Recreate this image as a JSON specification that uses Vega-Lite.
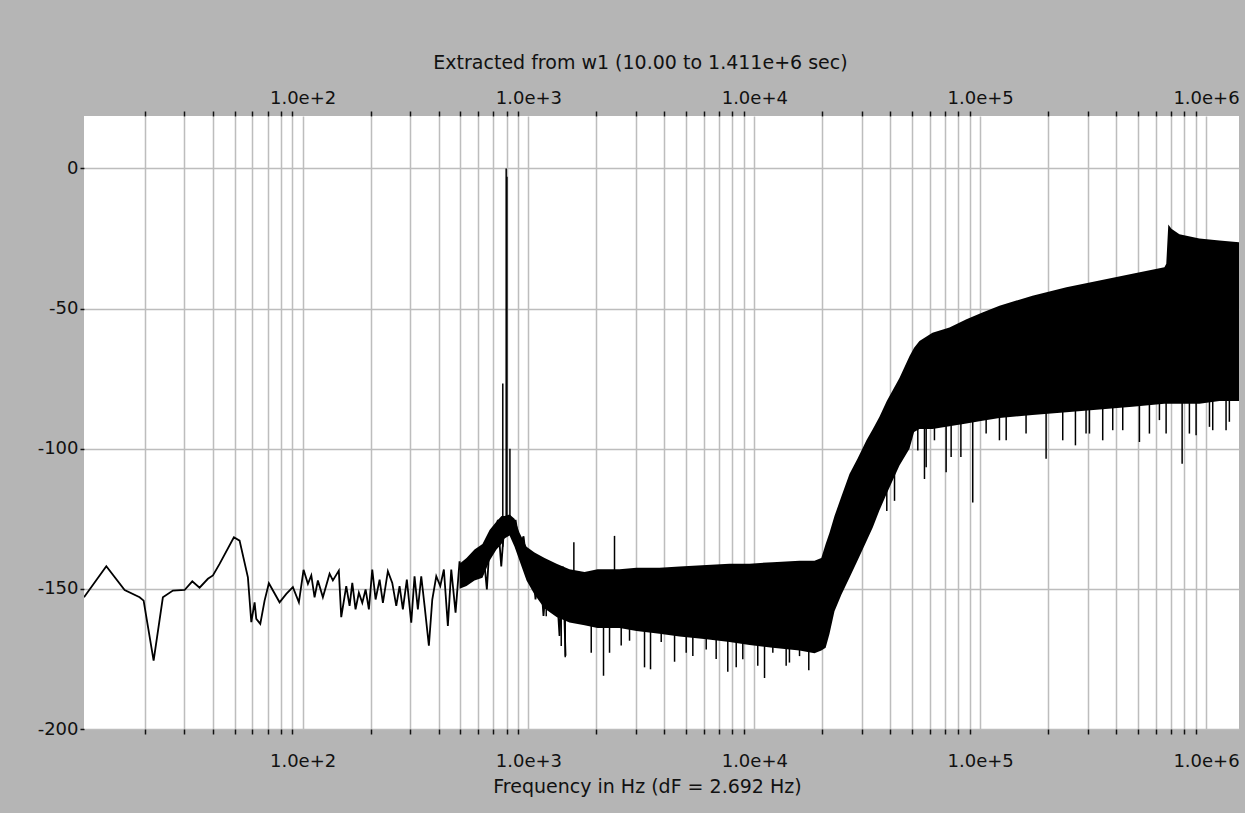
{
  "$schema": "https://vega.github.io/schema/vega-lite/v6.json",
  "width": 1155,
  "height": 613,
  "autosize": {"type": "none"},
  "padding": {"left": 84, "top": 116, "right": 6, "bottom": 84},
  "background": "#b5b5b5",
  "datasets": {
    "band": [
      {"freq": 495.5, "hi": -141, "lo": -150},
      {"freq": 532, "hi": -139, "lo": -149},
      {"freq": 577, "hi": -136, "lo": -147},
      {"freq": 626, "hi": -134, "lo": -146},
      {"freq": 673, "hi": -129, "lo": -140},
      {"freq": 722, "hi": -126, "lo": -136},
      {"freq": 760, "hi": -124, "lo": -134},
      {"freq": 784, "hi": -124, "lo": -132},
      {"freq": 825, "hi": -123.5, "lo": -131},
      {"freq": 868, "hi": -125, "lo": -135},
      {"freq": 913, "hi": -130, "lo": -140},
      {"freq": 981, "hi": -135, "lo": -147},
      {"freq": 1064, "hi": -137, "lo": -152},
      {"freq": 1179, "hi": -139, "lo": -157},
      {"freq": 1332, "hi": -141, "lo": -160},
      {"freq": 1520, "hi": -143, "lo": -162},
      {"freq": 1772, "hi": -144, "lo": -163},
      {"freq": 2023, "hi": -143, "lo": -164},
      {"freq": 2531, "hi": -143, "lo": -164},
      {"freq": 3010, "hi": -142.5, "lo": -165},
      {"freq": 3805, "hi": -142.5, "lo": -166},
      {"freq": 4666, "hi": -142, "lo": -167},
      {"freq": 6143, "hi": -141.5, "lo": -168},
      {"freq": 7768, "hi": -141, "lo": -169},
      {"freq": 9524, "hi": -141, "lo": -170},
      {"freq": 12040, "hi": -140.5, "lo": -171},
      {"freq": 15860, "hi": -140, "lo": -172},
      {"freq": 18475, "hi": -140, "lo": -173},
      {"freq": 19800, "hi": -139, "lo": -172},
      {"freq": 20700, "hi": -134, "lo": -171},
      {"freq": 21530, "hi": -130, "lo": -166},
      {"freq": 22650, "hi": -124, "lo": -158},
      {"freq": 24320, "hi": -117, "lo": -152},
      {"freq": 26390, "hi": -109, "lo": -146},
      {"freq": 28630, "hi": -103.6, "lo": -140},
      {"freq": 31380, "hi": -97, "lo": -133},
      {"freq": 33500, "hi": -93, "lo": -128},
      {"freq": 35830, "hi": -88.6, "lo": -122},
      {"freq": 38600, "hi": -83, "lo": -116},
      {"freq": 43930, "hi": -74.8, "lo": -106},
      {"freq": 48650, "hi": -67, "lo": -100},
      {"freq": 51000, "hi": -64, "lo": -94},
      {"freq": 53860, "hi": -61.6, "lo": -93},
      {"freq": 61510, "hi": -58.6, "lo": -93},
      {"freq": 73130, "hi": -56.8, "lo": -92},
      {"freq": 86980, "hi": -53.8, "lo": -91},
      {"freq": 102370, "hi": -51.4, "lo": -90},
      {"freq": 121750, "hi": -49, "lo": -89},
      {"freq": 170420, "hi": -45.4, "lo": -88},
      {"freq": 241000, "hi": -42.4, "lo": -87},
      {"freq": 337500, "hi": -40, "lo": -86},
      {"freq": 472300, "hi": -37.6, "lo": -85},
      {"freq": 654400, "hi": -35.3, "lo": -84},
      {"freq": 667000, "hi": -34, "lo": -84},
      {"freq": 681000, "hi": -20, "lo": -84},
      {"freq": 702800, "hi": -21.5, "lo": -84},
      {"freq": 762600, "hi": -23.5, "lo": -84},
      {"freq": 934900, "hi": -25, "lo": -84},
      {"freq": 1146700, "hi": -25.7, "lo": -83},
      {"freq": 1400000, "hi": -26.3, "lo": -83}
    ],
    "trace": [
      {"freq": 10.77, "db": -153},
      {"freq": 13.52, "db": -141.9},
      {"freq": 16.3, "db": -150.4},
      {"freq": 18.99, "db": -153},
      {"freq": 19.78, "db": -154.2},
      {"freq": 21.9, "db": -175.6},
      {"freq": 24.07, "db": -153},
      {"freq": 26.66, "db": -150.6},
      {"freq": 30.04, "db": -150.4},
      {"freq": 32.48, "db": -147.3},
      {"freq": 34.99, "db": -149.6},
      {"freq": 38.09, "db": -146.4},
      {"freq": 40.09, "db": -145.2},
      {"freq": 42.91, "db": -141.1},
      {"freq": 49.65, "db": -131.6},
      {"freq": 52.61, "db": -132.8},
      {"freq": 57.27, "db": -145.9},
      {"freq": 59.29, "db": -161.9},
      {"freq": 61.32, "db": -154.8},
      {"freq": 62.37, "db": -160.7},
      {"freq": 64.97, "db": -162.5},
      {"freq": 67.89, "db": -154.2},
      {"freq": 70.92, "db": -148},
      {"freq": 79.09, "db": -154.8},
      {"freq": 84.72, "db": -151.8},
      {"freq": 90.59, "db": -149.4},
      {"freq": 96.3, "db": -154.8},
      {"freq": 101, "db": -143.2},
      {"freq": 105.6, "db": -148.2},
      {"freq": 109.3, "db": -145.2},
      {"freq": 113, "db": -153},
      {"freq": 116.9, "db": -147},
      {"freq": 123, "db": -153},
      {"freq": 131.7, "db": -144.6},
      {"freq": 136.2, "db": -147},
      {"freq": 144.7, "db": -143.5},
      {"freq": 148.3, "db": -160.1},
      {"freq": 156.1, "db": -149},
      {"freq": 161.5, "db": -156.1},
      {"freq": 166, "db": -147.9},
      {"freq": 171.6, "db": -157.3},
      {"freq": 177.5, "db": -151.4},
      {"freq": 183.8, "db": -155},
      {"freq": 190.1, "db": -150.2},
      {"freq": 196.6, "db": -157.3},
      {"freq": 203.5, "db": -143.1},
      {"freq": 210.5, "db": -153.8},
      {"freq": 219.3, "db": -146.7},
      {"freq": 226.8, "db": -155},
      {"freq": 238.6, "db": -143.7},
      {"freq": 249.5, "db": -147.9},
      {"freq": 259.9, "db": -156.1},
      {"freq": 268.8, "db": -149},
      {"freq": 278, "db": -157.3},
      {"freq": 289.5, "db": -146.7},
      {"freq": 302.8, "db": -162.1},
      {"freq": 313.1, "db": -145.5},
      {"freq": 323.9, "db": -157.3},
      {"freq": 335.3, "db": -145.5},
      {"freq": 346.9, "db": -156.1},
      {"freq": 362.4, "db": -170.3},
      {"freq": 375.2, "db": -153.8},
      {"freq": 390.8, "db": -145.5},
      {"freq": 407.1, "db": -149},
      {"freq": 422.3, "db": -143.1},
      {"freq": 439.8, "db": -163.2},
      {"freq": 455.3, "db": -143.1},
      {"freq": 475.7, "db": -158.5},
      {"freq": 495.5, "db": -140.2},
      {"freq": 512.5, "db": -147.9},
      {"freq": 533.8, "db": -140.8},
      {"freq": 552.6, "db": -145.5},
      {"freq": 577.4, "db": -137.2},
      {"freq": 603.2, "db": -142},
      {"freq": 628.3, "db": -134.9},
      {"freq": 654.5, "db": -150.2},
      {"freq": 677.6, "db": -130.1},
      {"freq": 707.9, "db": -133.7},
      {"freq": 731.9, "db": -125.4},
      {"freq": 758, "db": -142},
      {"freq": 784, "db": -126},
      {"freq": 825, "db": -124.2},
      {"freq": 853.2, "db": -129},
      {"freq": 877, "db": -125.4},
      {"freq": 913, "db": -134.9},
      {"freq": 951.3, "db": -131.3},
      {"freq": 993.8, "db": -144.3},
      {"freq": 1029, "db": -137.2},
      {"freq": 1075, "db": -153.8},
      {"freq": 1120, "db": -139.6},
      {"freq": 1166, "db": -159.7},
      {"freq": 1219, "db": -140.8},
      {"freq": 1262, "db": -157.3},
      {"freq": 1318, "db": -143.1},
      {"freq": 1373, "db": -166.8},
      {"freq": 1420, "db": -142},
      {"freq": 1460, "db": -173.9}
    ],
    "spikes": [
      {"freq": 797, "a": -128, "b": 0},
      {"freq": 803, "a": -128, "b": -3},
      {"freq": 770, "a": -135, "b": -76.7},
      {"freq": 828, "a": -130, "b": -100},
      {"freq": 1199, "a": -150, "b": -159.8},
      {"freq": 1397, "a": -150, "b": -170.4},
      {"freq": 1455, "a": -150, "b": -174.4},
      {"freq": 1589, "a": -145, "b": -133.4},
      {"freq": 1897, "a": -150, "b": -172.8},
      {"freq": 2150, "a": -150, "b": -181},
      {"freq": 2286, "a": -150, "b": -172.8},
      {"freq": 2405, "a": -145, "b": -131.1},
      {"freq": 2575, "a": -150, "b": -170.2},
      {"freq": 2803, "a": -150, "b": -168.5},
      {"freq": 3266, "a": -150, "b": -178},
      {"freq": 3472, "a": -150, "b": -178.7},
      {"freq": 3872, "a": -150, "b": -169},
      {"freq": 4436, "a": -150, "b": -176},
      {"freq": 4995, "a": -150, "b": -172.8},
      {"freq": 5344, "a": -150, "b": -174},
      {"freq": 6126, "a": -150, "b": -171.6},
      {"freq": 6780, "a": -150, "b": -175},
      {"freq": 7632, "a": -150, "b": -179.6},
      {"freq": 8317, "a": -150, "b": -178},
      {"freq": 8894, "a": -150, "b": -175.1},
      {"freq": 10360, "a": -150, "b": -177.4},
      {"freq": 11100, "a": -150, "b": -181.8},
      {"freq": 12080, "a": -150, "b": -172.8},
      {"freq": 13840, "a": -150, "b": -177.4},
      {"freq": 14310, "a": -150, "b": -176.3},
      {"freq": 15860, "a": -150, "b": -174},
      {"freq": 17430, "a": -150, "b": -179},
      {"freq": 38610, "a": -100, "b": -122.2},
      {"freq": 41770, "a": -95, "b": -118.6},
      {"freq": 52960, "a": -80, "b": -100.6},
      {"freq": 56690, "a": -80, "b": -110.8},
      {"freq": 57680, "a": -80, "b": -106.6},
      {"freq": 62760, "a": -80, "b": -97},
      {"freq": 70700, "a": -80, "b": -108.4},
      {"freq": 74400, "a": -80, "b": -103},
      {"freq": 82170, "a": -80, "b": -103},
      {"freq": 92740, "a": -80, "b": -119.2},
      {"freq": 106300, "a": -80, "b": -94.6},
      {"freq": 121750, "a": -80, "b": -97},
      {"freq": 130400, "a": -80, "b": -97},
      {"freq": 159700, "a": -80, "b": -94.6},
      {"freq": 195900, "a": -80, "b": -103.6},
      {"freq": 232100, "a": -80, "b": -97},
      {"freq": 264200, "a": -80, "b": -98.8},
      {"freq": 294400, "a": -80, "b": -94.6},
      {"freq": 304800, "a": -80, "b": -94.6},
      {"freq": 348900, "a": -80, "b": -97},
      {"freq": 386400, "a": -80, "b": -93.4},
      {"freq": 427900, "a": -80, "b": -93.4},
      {"freq": 507300, "a": -80, "b": -97.6},
      {"freq": 561700, "a": -80, "b": -94.6},
      {"freq": 622000, "a": -80, "b": -89.8},
      {"freq": 665900, "a": -80, "b": -94.6},
      {"freq": 784000, "a": -80, "b": -105.4},
      {"freq": 844400, "a": -80, "b": -94.6},
      {"freq": 904000, "a": -80, "b": -95.2},
      {"freq": 1036000, "a": -80, "b": -92.2},
      {"freq": 1071000, "a": -80, "b": -93.4},
      {"freq": 1227000, "a": -80, "b": -93.4},
      {"freq": 1269000, "a": -80, "b": -90.4}
    ]
  },
  "layer": [
    {
      "data": {"name": "band"},
      "mark": {"type": "area", "color": "black", "clip": true},
      "encoding": {
        "x": {
          "field": "freq", "type": "quantitative",
          "scale": {"type": "log", "domain": [10.77, 1400000], "nice": false},
          "axis": {
            "orient": "bottom",
            "values": [20,30,40,50,60,70,80,90,100,200,300,400,500,600,700,800,900,1000,2000,3000,4000,5000,6000,7000,8000,9000,10000,20000,30000,40000,50000,60000,70000,80000,90000,100000,200000,300000,400000,500000,600000,700000,800000,900000,1000000],
            "labelExpr": "(datum.value == 100 || datum.value == 1000 || datum.value == 10000 || datum.value == 100000 || datum.value == 1000000) ? '1.0e+' + round(log(datum.value)/LN10) : ''",
            "labelBaseline": "alphabetic",
            "labelPadding": 32,
            "labelFlush": false,
            "labelOverlap": false,
            "grid": true,
            "tickOpacity": {"condition": {"test": "datum.value == 100 || datum.value == 1000 || datum.value == 10000 || datum.value == 100000 || datum.value == 1000000", "value": 0}, "value": 1},
            "title": "Frequency in Hz (dF = 2.692 Hz)",
            "titleX": 563,
            "titleY": 63,
            "titleAlign": "center",
            "titleBaseline": "alphabetic"
          }
        },
        "y": {
          "field": "hi", "type": "quantitative",
          "scale": {"domain": [-200, 18.7], "nice": false, "zero": false},
          "axis": {"values": [0, -50, -100, -150, -200], "labelExpr": "'' + datum.value", "title": null, "grid": true, "labelPadding": 2, "tickSize": 4}
        },
        "y2": {"field": "lo"}
      }
    },
    {
      "data": {"name": "trace"},
      "mark": {"type": "line", "color": "black", "strokeWidth": 1.8, "clip": true},
      "encoding": {
        "x": {
          "field": "freq", "type": "quantitative",
          "axis": {
            "orient": "top",
            "values": [20,30,40,50,60,70,80,90,100,200,300,400,500,600,700,800,900,1000,2000,3000,4000,5000,6000,7000,8000,9000,10000,20000,30000,40000,50000,60000,70000,80000,90000,100000,200000,300000,400000,500000,600000,700000,800000,900000,1000000],
            "labelExpr": "(datum.value == 100 || datum.value == 1000 || datum.value == 10000 || datum.value == 100000 || datum.value == 1000000) ? '1.0e+' + round(log(datum.value)/LN10) : ''",
            "labelBaseline": "alphabetic",
            "labelPadding": 8,
            "labelFlush": false,
            "labelOverlap": false,
            "grid": false,
            "tickOpacity": {"condition": {"test": "datum.value == 100 || datum.value == 1000 || datum.value == 10000 || datum.value == 100000 || datum.value == 1000000", "value": 0}, "value": 1},
            "title": "Extracted from w1 (10.00 to 1.411e+6 sec)",
            "titleX": 556,
            "titleY": -48,
            "titleAlign": "center",
            "titleBaseline": "alphabetic"
          }
        },
        "y": {"field": "db", "type": "quantitative"}
      }
    },
    {
      "data": {"name": "spikes"},
      "mark": {"type": "rule", "color": "black", "strokeWidth": 1.5, "clip": true},
      "encoding": {
        "x": {"field": "freq", "type": "quantitative", "axis": null},
        "y": {"field": "a", "type": "quantitative"},
        "y2": {"field": "b"}
      }
    }
  ],
  "resolve": {"axis": {"x": "independent"}},
  "config": {
    "view": {"fill": "white", "stroke": null},
    "axis": {
      "domain": false,
      "labelFont": "DejaVu Sans",
      "labelFontSize": 18,
      "labelColor": "#111111",
      "titleFont": "DejaVu Sans",
      "titleFontSize": 19,
      "titleFontWeight": "normal",
      "titleColor": "#111111",
      "gridColor": "#bdbdbd",
      "gridWidth": 1.5,
      "gridOpacity": 1,
      "tickColor": "#111111",
      "tickWidth": 1.5,
      "tickSize": 5
    }
  }
}
